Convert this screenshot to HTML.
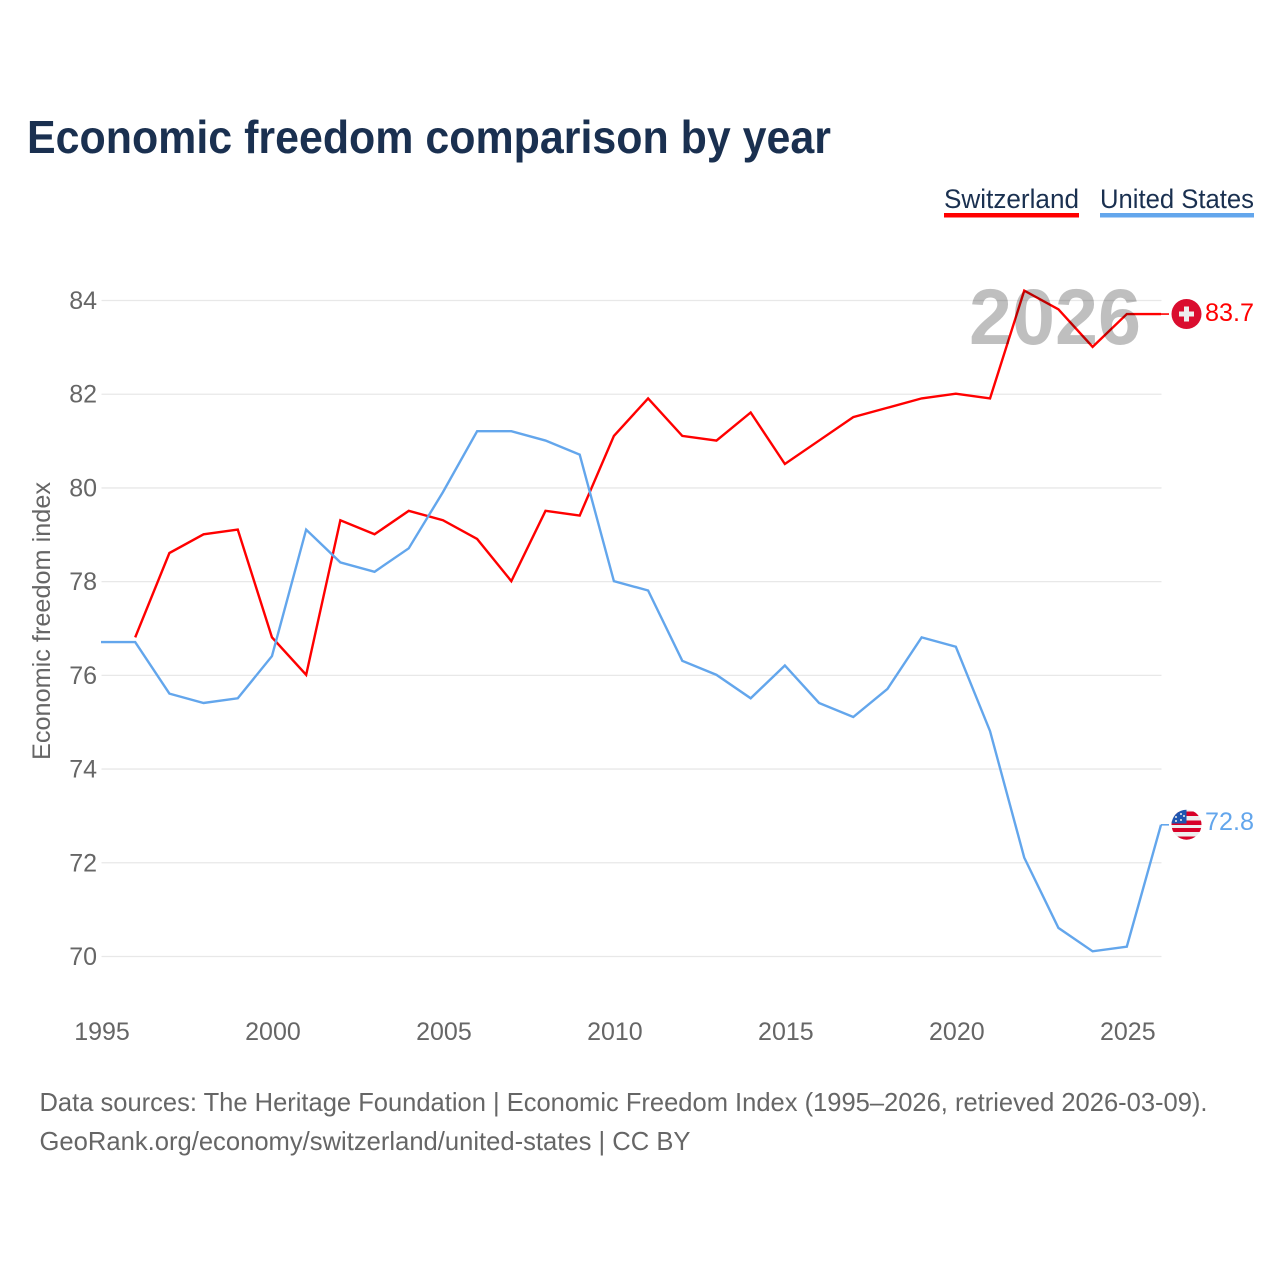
<!DOCTYPE html>
<html lang="en">
<head>
<meta charset="utf-8">
<title>Economic freedom comparison by year</title>
<style>
html,body{margin:0;padding:0;background:#fff;}
body{width:1280px;height:1280px;overflow:hidden;}
svg{display:block;}
text{font-family:"Liberation Sans",Arial,sans-serif;}
</style>
</head>
<body>
<svg id="chart" width="1280" height="1280" viewBox="0 0 1280 1280" xmlns="http://www.w3.org/2000/svg">
  <defs>
    <clipPath id="us-clip"><circle cx="1186.5" cy="824.7" r="15"/></clipPath>
  </defs>
  <rect width="1280" height="1280" fill="#fff"/>
  <text x="27" y="153" font-size="46" font-weight="bold" fill="#1a3050" textLength="804" lengthAdjust="spacingAndGlyphs">Economic freedom comparison by year</text>

  <g>
    <text x="944" y="208" font-size="27" fill="#1a3050" textLength="135" lengthAdjust="spacingAndGlyphs">Switzerland</text>
    <rect x="944" y="213" width="135" height="4.5" fill="#ff0000"/>
  </g>
  <g>
    <text x="1100" y="208" font-size="27" fill="#1a3050" textLength="154" lengthAdjust="spacingAndGlyphs">United States</text>
    <rect x="1100" y="213" width="154" height="4.5" fill="#63a6ec"/>
  </g>

  <g id="grid"></g>
  <g id="yticks"></g>
  <g id="xticks"></g>
  <text transform="translate(50,760) rotate(-90)" font-size="25" fill="#666" textLength="278" lengthAdjust="spacingAndGlyphs">Economic freedom index</text>
  <g id="series"></g>

  <text x="969" y="344" font-size="79" font-weight="bold" fill="#000" fill-opacity="0.25" textLength="172" lengthAdjust="spacingAndGlyphs">2026</text>

  <g>
    <circle cx="1186.5" cy="314" r="15" fill="#da0d2f"/>
    <rect x="1184" y="306.5" width="5" height="15" fill="#eeeeee"/>
    <rect x="1179" y="311.5" width="15" height="5" fill="#eeeeee"/>
  </g>
  <g clip-path="url(#us-clip)">
    <rect x="1171" y="809" width="31" height="32" fill="#eeeeee"/>
    <rect x="1171" y="811.5" width="31" height="4.5" fill="#d80027"/>
    <rect x="1171" y="820.5" width="31" height="4.5" fill="#d80027"/>
    <rect x="1171" y="828" width="31" height="4" fill="#d80027"/>
    <rect x="1171" y="836.5" width="31" height="4" fill="#d80027"/>
    <rect x="1171" y="809" width="15.5" height="14.5" fill="#1f56b0"/>
    <circle cx="1176" cy="817" r="1" fill="#eee"/><circle cx="1181" cy="814" r="1" fill="#eee"/>
    <circle cx="1181" cy="820" r="1" fill="#eee"/><circle cx="1176" cy="821" r="1" fill="#eee"/>
    <circle cx="1184" cy="816" r="1" fill="#eee"/>
  </g>

  <text id="end-ch" x="1205" y="321" font-size="25" fill="#ff0000" textLength="49" lengthAdjust="spacingAndGlyphs"></text>
  <text id="end-us" x="1205" y="830" font-size="25" fill="#63a6ec" textLength="49" lengthAdjust="spacingAndGlyphs"></text>

  <text x="39.5" y="1111" font-size="26" fill="#666" textLength="1168" lengthAdjust="spacingAndGlyphs">Data sources: The Heritage Foundation | Economic Freedom Index (1995–2026, retrieved 2026-03-09).</text>
  <text x="39.5" y="1150" font-size="26" fill="#666" textLength="651" lengthAdjust="spacingAndGlyphs">GeoRank.org/economy/switzerland/united-states | CC BY</text>
</svg>
<script>
const yTicks = [70, 72, 74, 76, 78, 80, 82, 84];
const xTicks = [1995, 2000, 2005, 2010, 2015, 2020, 2025];
const swissYears = [1996,1997,1998,1999,2000,2001,2002,2003,2004,2005,2006,2007,2008,2009,2010,2011,2012,2013,2014,2015,2016,2017,2018,2019,2020,2021,2022,2023,2024,2025,2026];
const swissValues = [76.8,78.6,79,79.1,76.8,76,79.3,79,79.5,79.3,78.9,78,79.5,79.4,81.1,81.9,81.1,81,81.6,80.5,81,81.5,81.7,81.9,82,81.9,84.2,83.8,83,83.7,83.7];
const usYears = [1995,1996,1997,1998,1999,2000,2001,2002,2003,2004,2005,2006,2007,2008,2009,2010,2011,2012,2013,2014,2015,2016,2017,2018,2019,2020,2021,2022,2023,2024,2025,2026];
const usValues = [76.7,76.7,75.6,75.4,75.5,76.4,79.1,78.4,78.2,78.7,79.9,81.2,81.2,81,80.7,78,77.8,76.3,76,75.5,76.2,75.4,75.1,75.7,76.8,76.6,74.8,72.1,70.6,70.1,70.2,72.8];

const SVG_NS = 'http://www.w3.org/2000/svg';
const xScale = function (year) { return 101 + (year - 1995) * (1060 / 31); };
const yScale = function (value) { return 956 - (value - 70) * (656 / 14); };

function make(tag, parent, attrs) {
  const el = document.createElementNS(SVG_NS, tag);
  Object.keys(attrs).forEach(function (k) { el.setAttribute(k, attrs[k]); });
  parent.appendChild(el);
  return el;
}

const grid = document.getElementById('grid');
const yGroup = document.getElementById('yticks');
const xGroup = document.getElementById('xticks');
const seriesGroup = document.getElementById('series');

yTicks.forEach(function (t) {
  const gy = yScale(t) + 0.5;
  const line = make('line', grid, {x1: 101.5, x2: 1161.5, y1: gy, y2: gy, stroke: '#e8e8e8', 'stroke-width': 1.3});
  
  
  const label = make('text', yGroup, {x: 97, y: gy + 8.5, 'font-size': 25, fill: '#666', 'text-anchor': 'end'});
  
  
  label.textContent = String(t);
});

xTicks.forEach(function (t) {
  const label = make('text', xGroup, {x: xScale(t) + 1, y: 1040, 'font-size': 25, fill: '#666', 'text-anchor': 'middle'});
  
  
  label.textContent = String(t);
});

function points(years, values) {
  return years.map(function (y, i) { return xScale(y).toFixed(2) + ',' + yScale(values[i]).toFixed(2); }).join(' ');
}

const swissLine = make('polyline', seriesGroup, {points: points(swissYears, swissValues), fill: 'none', stroke: '#ff0000', 'stroke-width': 2.4, 'stroke-linejoin': 'miter'});



const usLine = make('polyline', seriesGroup, {points: points(usYears, usValues), fill: 'none', stroke: '#63a6ec', 'stroke-width': 2.4, 'stroke-linejoin': 'miter'});



const swissLast = swissValues[swissValues.length - 1];
const usLast = usValues[usValues.length - 1];

const swissConn = make('line', seriesGroup, {x1: xScale(2026), x2: 1169, y1: yScale(swissLast), y2: yScale(swissLast), stroke: '#ff0000', 'stroke-width': 1.6});



const usConn = make('line', seriesGroup, {x1: xScale(2026), x2: 1169, y1: yScale(usLast), y2: yScale(usLast), stroke: '#63a6ec', 'stroke-width': 1.6});



document.getElementById('end-ch').textContent = swissLast.toFixed(1);
document.getElementById('end-us').textContent = usLast.toFixed(1);
</script>
</body>
</html>
